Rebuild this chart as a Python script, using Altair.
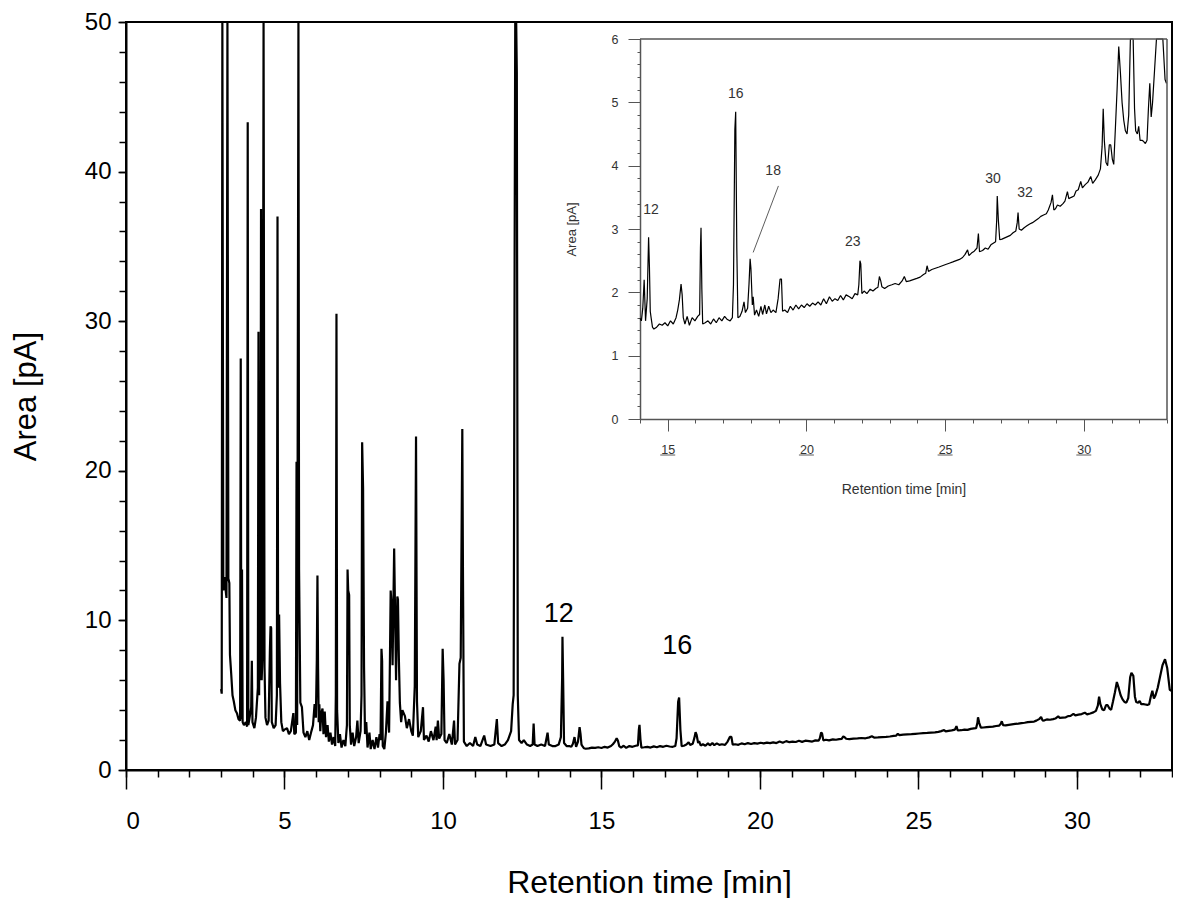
import altair as alt
import pandas as pd

# ---------------- data ----------------
TIME = [
    3.00, 3.02, 3.04, 3.07, 3.10, 3.13, 3.17, 3.20, 3.23, 3.26, 3.28, 3.32, 3.36, 3.40, 3.45,
    3.50, 3.55, 3.60, 3.62, 3.64, 3.66, 3.68, 3.72, 3.78, 3.82, 3.84, 3.86, 3.90, 3.95, 3.97,
    3.99, 4.05, 4.10, 4.16, 4.18, 4.20, 4.22, 4.24, 4.26, 4.28, 4.31, 4.34, 4.37, 4.40, 4.45,
    4.50, 4.54, 4.56, 4.58, 4.60, 4.66, 4.72, 4.76, 4.78, 4.80, 4.83, 4.86, 4.90, 4.95, 5.00,
    5.08, 5.14, 5.20, 5.28, 5.31, 5.36, 5.38, 5.40, 5.44, 5.46, 5.50, 5.55, 5.60, 5.66, 5.72,
    5.78, 5.85, 5.90, 5.95, 5.99, 6.02, 6.04, 6.06, 6.08, 6.10, 6.13, 6.16, 6.20, 6.23, 6.27,
    6.31, 6.36, 6.40, 6.45, 6.50, 6.55, 6.60, 6.62, 6.64, 6.66, 6.70, 6.75, 6.80, 6.86, 6.92,
    6.97, 6.99, 7.01, 7.04, 7.06, 7.10, 7.15, 7.20, 7.26, 7.30, 7.34, 7.40, 7.43, 7.45, 7.48,
    7.51, 7.54, 7.58, 7.62, 7.68, 7.72, 7.78, 7.84, 7.90, 7.95, 8.00, 8.03, 8.06, 8.08, 8.10,
    8.15, 8.20, 8.25, 8.30, 8.33, 8.35, 8.38, 8.41, 8.46, 8.49, 8.52, 8.56, 8.58, 8.61, 8.64,
    8.68, 8.72, 8.80, 8.86, 8.93, 9.00, 9.05, 9.11, 9.15, 9.18, 9.22, 9.30, 9.37, 9.40, 9.48,
    9.55, 9.62, 9.70, 9.77, 9.80, 9.84, 9.88, 9.95, 9.99, 10.02, 10.05, 10.12, 10.20, 10.28, 10.35,
    10.38, 10.46, 10.52, 10.56, 10.61, 10.63, 10.66, 10.75, 10.85, 10.95, 11.02, 11.08, 11.18, 11.30, 11.36,
    11.50, 11.62, 11.70, 11.74, 11.85, 11.95, 12.05, 12.15, 12.20, 12.23, 12.26, 12.28, 12.31, 12.33, 12.36,
    12.40, 12.48, 12.55, 12.65, 12.75, 12.83, 12.86, 12.89, 12.98, 13.10, 13.22, 13.30, 13.34, 13.45, 13.55,
    13.65, 13.72, 13.76, 13.77, 13.79, 13.82, 13.90, 14.00, 14.05, 14.10, 14.15, 14.20, 14.26, 14.31, 14.34,
    14.37, 14.40, 14.45, 14.50, 14.60, 14.70, 14.80, 14.90, 15.00, 15.10, 15.20, 15.30, 15.36, 15.42, 15.48,
    15.52, 15.56, 15.62, 15.70, 15.78, 15.88, 15.98, 16.08, 16.15, 16.18, 16.20, 16.23, 16.26, 16.35, 16.45,
    16.55, 16.65, 16.75, 16.85, 16.95, 17.05, 17.15, 17.25, 17.33, 17.37, 17.42, 17.45, 17.49, 17.53, 17.60,
    17.68, 17.75, 17.80, 17.88, 17.93, 17.97, 18.00, 18.05, 18.08, 18.13, 18.20, 18.28, 18.36, 18.42, 18.50,
    18.56, 18.64, 18.72, 18.80, 18.90, 18.98, 19.05, 19.10, 19.14, 19.22, 19.32, 19.42, 19.52, 19.62, 19.72,
    19.82, 19.92, 20.02, 20.12, 20.22, 20.32, 20.42, 20.52, 20.62, 20.72, 20.83, 20.93, 21.03, 21.13, 21.23,
    21.33, 21.43, 21.55, 21.65, 21.75, 21.85, 21.89, 21.93, 21.96, 22.00, 22.08, 22.18, 22.30, 22.40, 22.50,
    22.58, 22.63, 22.68, 22.72, 22.82, 22.95, 23.08, 23.20, 23.33, 23.45, 23.53, 23.60, 23.72, 23.85, 23.98,
    24.10, 24.22, 24.30, 24.35, 24.40, 24.52, 24.65, 24.78, 24.90, 25.02, 25.15, 25.28, 25.40, 25.52, 25.63,
    25.72, 25.81, 25.86, 25.95, 26.05, 26.15, 26.20, 26.24, 26.35, 26.45, 26.55, 26.65, 26.75, 26.82, 26.86,
    26.88, 26.92, 26.97, 27.05, 27.15, 27.25, 27.35, 27.45, 27.55, 27.60, 27.63, 27.67, 27.75, 27.85, 27.95,
    28.05, 28.15, 28.25, 28.35, 28.45, 28.55, 28.65, 28.72, 28.82, 28.87, 28.92, 28.98, 29.05, 29.15, 29.25,
    29.32, 29.41, 29.46, 29.55, 29.65, 29.72, 29.80, 29.89, 29.95, 30.05, 30.15, 30.25, 30.32, 30.42, 30.52,
    30.60, 30.66, 30.70, 30.74, 30.80, 30.86, 30.92, 30.97, 31.03, 31.08, 31.14, 31.20, 31.26, 31.32, 31.38,
    31.44, 31.50, 31.56, 31.62, 31.68, 31.72, 31.78, 31.83, 31.87, 31.93, 31.98, 32.03, 32.10, 32.16, 32.22,
    32.28, 32.33, 32.38, 32.43, 32.48, 32.55, 32.62, 32.70, 32.78, 32.85, 32.93, 32.98,
]
AREA = [
    5.4, 5.1, 90.0, 12.0, 12.9, 12.3, 11.5, 90.0, 12.8, 12.5, 7.7, 6.4, 5.0, 4.6, 4.0,
    3.8, 3.4, 3.3, 27.5, 3.4, 13.4, 3.2, 3.0, 3.2, 2.9, 43.3, 3.0, 3.5, 4.2, 7.3,
    3.2, 2.8, 3.5, 5.5, 29.3, 5.0, 15.7, 6.0, 37.5, 6.0, 8.0, 90.0, 6.9, 3.5, 3.0,
    3.3, 8.0, 9.6, 9.5, 3.2, 2.8, 3.0, 5.0, 37.0, 5.5, 10.4, 5.8, 3.2, 2.6, 2.7,
    2.8, 2.4, 2.6, 3.8, 2.4, 2.5, 20.6, 3.0, 90.0, 13.4, 4.5, 4.2, 2.5, 2.2, 2.6,
    2.0, 2.6, 3.0, 4.4, 3.5, 7.4, 13.0, 6.8, 3.2, 4.4, 2.6, 3.8, 4.1, 2.4, 3.9,
    2.2, 3.0, 1.9, 2.5, 1.7, 2.2, 1.6, 5.0, 30.5, 4.0, 1.8, 2.4, 1.5, 2.0, 1.6,
    3.0, 13.4, 12.0, 11.7, 3.0, 1.7, 2.5, 1.6, 2.2, 3.3, 1.8, 2.6, 5.0, 21.9, 18.8,
    6.9, 2.4, 3.2, 1.5, 2.5, 1.4, 2.0, 1.4, 2.2, 1.5, 2.4, 2.0, 8.1, 7.3, 1.6,
    1.4, 2.5, 4.6, 2.5, 8.0, 12.0, 11.0, 7.0, 14.8, 10.4, 6.0, 11.6, 11.4, 7.3, 4.5,
    3.2, 4.0, 3.6, 2.8, 3.4, 2.6, 2.3, 5.6, 22.3, 4.6, 2.2, 2.6, 4.2, 2.0, 2.3,
    1.9, 2.6, 2.0, 2.9, 2.0, 3.3, 2.1, 2.4, 8.1, 6.0, 2.0, 1.8, 2.4, 1.7, 3.3,
    1.7, 2.0, 7.1, 7.5, 22.8, 13.6, 1.9, 1.6, 1.8, 1.6, 2.2, 1.7, 1.6, 2.3, 1.7,
    1.6, 1.7, 3.4, 1.8, 1.6, 1.7, 2.0, 2.6, 4.4, 5.0, 33.9, 90.0, 90.0, 46.6, 5.0,
    2.0, 1.8, 2.0, 1.7, 1.6, 1.7, 3.1, 1.7, 1.6, 1.7, 1.6, 2.5, 1.7, 1.6, 1.6,
    1.7, 2.2, 6.2, 8.9, 6.2, 1.8, 1.6, 1.59, 1.55, 1.75, 2.2, 1.55, 1.9, 2.87, 2.4,
    1.7, 1.6, 1.45, 1.42, 1.45, 1.5, 1.48, 1.52, 1.47, 1.55, 1.5, 1.6, 1.72, 1.88, 2.13,
    1.96, 1.6, 1.5, 1.62, 1.48, 1.6, 1.55, 1.62, 1.65, 2.7, 3.02, 2.05, 1.5, 1.52, 1.55,
    1.5, 1.58, 1.52, 1.6, 1.55, 1.62, 1.57, 1.55, 1.6, 2.12, 4.57, 4.85, 2.7, 1.6, 1.62,
    1.7, 1.85, 1.68, 1.75, 2.13, 2.53, 2.37, 1.8, 1.93, 1.64, 1.72, 1.62, 1.78, 1.65, 1.8,
    1.66, 1.78, 1.68, 1.72, 1.68, 1.9, 2.21, 2.21, 1.7, 1.72, 1.68, 1.78, 1.72, 1.8, 1.74,
    1.8, 1.76, 1.82, 1.78, 1.83, 1.8, 1.85, 1.8, 1.9, 1.82, 1.93, 1.86, 1.9, 1.87, 1.95,
    1.88, 1.96, 1.93, 1.9, 1.98, 1.96, 2.12, 2.5, 2.45, 1.98, 2.02, 1.98, 2.05, 2.02, 2.06,
    2.08, 2.25, 2.18, 2.09, 2.06, 2.1, 2.12, 2.14, 2.12, 2.18, 2.25, 2.17, 2.18, 2.2, 2.22,
    2.24, 2.28, 2.3, 2.42, 2.33, 2.36, 2.38, 2.4, 2.42, 2.44, 2.46, 2.48, 2.5, 2.52, 2.55,
    2.6, 2.67, 2.58, 2.62, 2.65, 2.7, 2.93, 2.64, 2.66, 2.7, 2.68, 2.75, 2.78, 2.8, 3.14,
    3.52, 3.14, 2.83, 2.84, 2.86, 2.88, 2.9, 2.94, 2.97, 3.1, 3.26, 3.0, 2.98, 3.02, 3.05,
    3.08, 3.1, 3.13, 3.16, 3.2, 3.22, 3.24, 3.3, 3.42, 3.54, 3.3, 3.32, 3.38, 3.36, 3.4,
    3.44, 3.59, 3.48, 3.5, 3.52, 3.6, 3.62, 3.75, 3.65, 3.7, 3.74, 3.83, 3.72, 3.78, 3.85,
    3.95, 4.3, 4.9, 4.4, 4.05, 4.0, 4.33, 4.33, 4.1, 4.02, 4.6, 5.2, 5.88, 5.47, 5.0,
    4.72, 4.55, 4.5, 4.8, 6.2, 6.5, 6.3, 4.9, 4.55, 4.5, 4.62, 4.4, 4.4, 4.38, 4.35,
    4.4, 4.9, 5.3, 4.77, 5.0, 5.5, 6.2, 7.0, 7.4, 6.8, 5.36, 5.3,
]

MAIN_LABELS = ["12", "16"]
MAIN_LABEL_T = [13.65, 17.39]
MAIN_LABEL_V = [10.4, 8.27]

INSET_LABELS = ["12", "16", "18", "23", "30", "32"]
INSET_LABEL_T = [14.4, 17.45, 18.8, 21.67, 26.73, 27.88]
INSET_LABEL_V = [3.3, 5.13, 3.92, 2.8, 3.79, 3.57]

POINTER_T = [18.99]
POINTER_T2 = [18.08]
POINTER_V = [3.68]
POINTER_V2 = [2.63]

MAIN_X_DOMAIN = [0, 33]
MAIN_Y_DOMAIN = [0, 50]
INSET_X_DOMAIN = [14, 33]
INSET_Y_DOMAIN = [0, 6]

MAIN_X_MAJOR = [0, 5, 10, 15, 20, 25, 30]
MAIN_X_MINOR = list(range(0, 34))
MAIN_Y_MAJOR = [0, 10, 20, 30, 40, 50]
MAIN_Y_MINOR = list(range(0, 51, 2))
INSET_X_MAJOR = [15, 20, 25, 30]
INSET_X_MINOR = list(range(14, 34))
INSET_Y_MAJOR = [0, 1, 2, 3, 4, 5, 6]
INSET_Y_MINOR = [round(i * 0.2, 1) for i in range(31)]

# ---------------- layout / style ----------------
W, H = 1046, 748
INSET_X_RANGE = [514, 1041]
INSET_Y_RANGE = [397, 17]
UNDERLINE_Y = 433          # pixel row of the underline below inset tick labels
UNDERLINE_HALF = 0.27      # half-width of the underline, in minutes
FONT = "Liberation Sans, Arial, sans-serif"
GREY = "#555555"
TXT_GREY = "#333333"

df = pd.DataFrame({"t": TIME, "v": AREA})
main_lab = pd.DataFrame({"t": MAIN_LABEL_T, "v": MAIN_LABEL_V, "label": MAIN_LABELS})
inset_lab = pd.DataFrame({"t": INSET_LABEL_T, "v": INSET_LABEL_V, "label": INSET_LABELS})
pointer = pd.DataFrame({"t": POINTER_T, "t2": POINTER_T2, "v": POINTER_V, "v2": POINTER_V2})
frame = pd.DataFrame({
    "t": [INSET_X_DOMAIN[0], INSET_X_DOMAIN[1]],
    "t2": [INSET_X_DOMAIN[1], INSET_X_DOMAIN[1]],
    "v": [INSET_Y_DOMAIN[1], INSET_Y_DOMAIN[0]],
    "v2": [INSET_Y_DOMAIN[1], INSET_Y_DOMAIN[1]],
})
underline = pd.DataFrame({
    "t": [m - UNDERLINE_HALF for m in INSET_X_MAJOR],
    "t2": [m + UNDERLINE_HALF for m in INSET_X_MAJOR],
})

main_x_scale = alt.Scale(domain=MAIN_X_DOMAIN, nice=False, zero=False)
main_y_scale = alt.Scale(domain=MAIN_Y_DOMAIN, nice=False, clamp=True)
inset_x_scale = alt.Scale(domain=INSET_X_DOMAIN, range=INSET_X_RANGE, nice=False, zero=False)
inset_y_scale = alt.Scale(domain=INSET_Y_DOMAIN, range=INSET_Y_RANGE, nice=False, clamp=True)

# ---- main axes ----
main_x_axis = alt.Axis(
    orient="bottom", values=MAIN_X_MAJOR, format="d", grid=False, labelOverlap=False,
    tickSize=19, tickColor="black", tickWidth=1.5, domainColor="black", domainWidth=2,
    labelFont=FONT, labelFontSize=24, labelColor="black", labelPadding=20,
    title="Retention time [min]", titleFont=FONT, titleFontSize=32, titleFontWeight="normal",
    titleColor="black", titleBaseline="alphabetic", titleX=W / 2, titleY=122,
)
main_x_minor = alt.Axis(
    orient="bottom", values=MAIN_X_MINOR, grid=False, labels=False, domain=False,
    tickSize=7, tickColor="black", tickWidth=1.5, title=None,
)
main_y_axis = alt.Axis(
    orient="left", values=MAIN_Y_MAJOR, format="d", grid=False, labelOverlap=False,
    tickSize=8, tickColor="black", tickWidth=1.5, domainColor="black", domainWidth=2,
    labelFont=FONT, labelFontSize=24, labelColor="black", labelPadding=7,
    title="Area [pA]", titleFont=FONT, titleFontSize=31, titleFontWeight="normal",
    titleColor="black", titleBaseline="alphabetic", titleX=-91, titleY=H / 2, titleAngle=270,
)
main_y_minor = alt.Axis(
    orient="left", values=MAIN_Y_MINOR, grid=False, labels=False, domain=False,
    tickSize=7, tickColor="black", tickWidth=1.5, title=None,
)

# ---- inset axes ----
inset_x_axis = alt.Axis(
    orient="bottom", offset=-(H - INSET_Y_RANGE[0]), values=INSET_X_MAJOR, format="d",
    grid=False, labelOverlap=False,
    tickSize=12, tickColor=GREY, tickWidth=1, domainColor=GREY, domainWidth=1.5,
    labelFont=FONT, labelFontSize=12.5, labelColor=TXT_GREY, labelPadding=12,
    title="Retention time [min]", titleFont=FONT, titleFontSize=14, titleFontWeight="normal",
    titleColor=TXT_GREY, titleBaseline="alphabetic",
    titleX=(INSET_X_RANGE[0] + INSET_X_RANGE[1]) / 2, titleY=74,
)
inset_x_minor = alt.Axis(
    orient="bottom", offset=-(H - INSET_Y_RANGE[0]), values=INSET_X_MINOR, grid=False,
    labels=False, domain=False, tickSize=4, tickColor=GREY, tickWidth=1, title=None,
)
inset_y_axis = alt.Axis(
    orient="left", offset=-INSET_X_RANGE[0], values=INSET_Y_MAJOR, format="d",
    grid=False, labelOverlap=False,
    tickSize=12, tickColor=GREY, tickWidth=1, domainColor=GREY, domainWidth=1.5,
    labelFont=FONT, labelFontSize=12.5, labelColor=TXT_GREY, labelPadding=10,
    title="Area [pA]", titleFont=FONT, titleFontSize=13, titleFontWeight="normal",
    titleColor=TXT_GREY, titleBaseline="alphabetic", titleX=-65,
    titleY=(INSET_Y_RANGE[0] + INSET_Y_RANGE[1]) / 2, titleAngle=270,
)
inset_y_minor = alt.Axis(
    orient="left", offset=-INSET_X_RANGE[0], values=INSET_Y_MINOR, grid=False,
    labels=False, domain=False, tickSize=3, tickColor=GREY, tickWidth=1, title=None,
)

# ---- main chart layers ----
main_line = alt.Chart(df).mark_line(color="black", strokeWidth=2.2, strokeJoin="bevel").encode(
    x=alt.X("t:Q", scale=main_x_scale, axis=main_x_axis),
    y=alt.Y("v:Q", scale=main_y_scale, axis=main_y_axis),
    order="t:Q",
)
main_minor = alt.Chart(df).mark_line(strokeOpacity=0).encode(
    x=alt.X("t:Q", scale=main_x_scale, axis=main_x_minor),
    y=alt.Y("v:Q", scale=main_y_scale, axis=main_y_minor),
    order="t:Q",
)
main_text = alt.Chart(main_lab).mark_text(
    font=FONT, fontSize=27, color="black", align="center", baseline="middle"
).encode(
    x=alt.X("t:Q", axis=None), y=alt.Y("v:Q", axis=None), text="label:N"
)

# ---- inset layers ----
inset_df = alt.Chart(df).transform_filter(f"datum.t >= {INSET_X_DOMAIN[0]}")
inset_line = inset_df.mark_line(color="black", strokeWidth=1.2, strokeJoin="bevel").encode(
    x=alt.X("t:Q", scale=inset_x_scale, axis=inset_x_axis),
    y=alt.Y("v:Q", scale=inset_y_scale, axis=inset_y_axis),
    order="t:Q",
)
inset_minor = inset_df.mark_line(strokeOpacity=0).encode(
    x=alt.X("t:Q", scale=inset_x_scale, axis=inset_x_minor),
    y=alt.Y("v:Q", scale=inset_y_scale, axis=inset_y_minor),
    order="t:Q",
)
inset_frame = alt.Chart(frame).mark_rule(color=GREY, strokeWidth=1.5).encode(
    x=alt.X("t:Q", axis=None), x2="t2:Q", y=alt.Y("v:Q", axis=None), y2="v2:Q"
)
inset_pointer = alt.Chart(pointer).mark_rule(color="#333333", strokeWidth=0.8).encode(
    x=alt.X("t:Q", axis=None), x2="t2:Q", y=alt.Y("v:Q", axis=None), y2="v2:Q"
)
inset_text = alt.Chart(inset_lab).mark_text(
    font=FONT, fontSize=14, color=TXT_GREY, align="center", baseline="middle"
).encode(
    x=alt.X("t:Q", axis=None), y=alt.Y("v:Q", axis=None), text="label:N"
)
inset_underline = alt.Chart(underline).mark_rule(color=TXT_GREY, strokeWidth=0.8).encode(
    x=alt.X("t:Q", axis=None), x2="t2:Q", y=alt.value(UNDERLINE_Y)
)

main_group = alt.layer(main_line, main_minor, main_text).resolve_axis(
    x="independent", y="independent"
)
inset_group = alt.layer(
    inset_line, inset_minor, inset_frame, inset_pointer, inset_text, inset_underline
).resolve_axis(x="independent", y="independent")

chart = alt.layer(main_group, inset_group).resolve_scale(
    x="independent", y="independent"
).properties(
    width=W, height=H,
    padding={"left": 118, "top": 14, "right": 1, "bottom": 128},
    autosize=alt.AutoSizeParams(type="none"),
).configure_view(stroke="black", strokeWidth=2)

chart.save("out.html", embed_options={"renderer": "svg", "actions": False})
